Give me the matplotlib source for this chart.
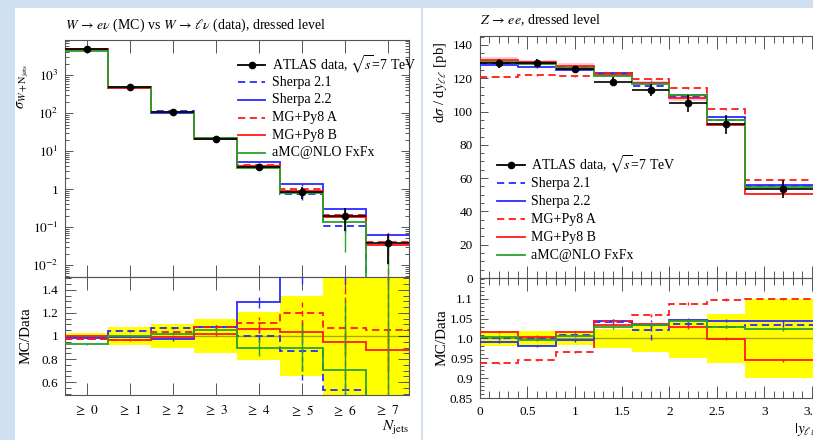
import numpy as np
import matplotlib
matplotlib.use('Agg')
import matplotlib.pyplot as plt
from matplotlib.ticker import FixedLocator, FixedFormatter, MultipleLocator, LogLocator, NullFormatter, NullLocator
from matplotlib.lines import Line2D
from matplotlib.patches import Rectangle

plt.rcParams['font.family'] = ['Liberation Serif', 'DejaVu Serif']
plt.rcParams['mathtext.fontset'] = 'stix'

W, H, DPI = 813, 440, 100

# ---------------- Left panel: W + jets ----------------
njets_labels = [r'$\geq\ 0$', r'$\geq\ 1$', r'$\geq\ 2$', r'$\geq\ 3$',
                r'$\geq\ 4$', r'$\geq\ 5$', r'$\geq\ 6$', r'$\geq\ 7$']
w_data = [4730, 475, 105, 20.5, 3.9, 0.85, 0.195, 0.039]
w_data_relerr = [0.022, 0.08, 0.105, 0.145, 0.205, 0.35, 0.6, 0.72]
w_ratio_s21 = [0.975, 1.043, 1.067, 1.075, 1.00, 0.87, 0.535, 0.001]
w_ratio_s22 = [0.985, 0.99, 0.97, 1.075, 1.29, 1.55, 1.55, 1.55]
w_ratio_mga = [0.975, 0.968, 1.035, 1.08, 1.11, 1.195, 1.065, 1.05]
w_ratio_mgb = [1.00, 0.962, 0.995, 1.013, 1.06, 1.035, 0.945, 0.88]
w_ratio_amc = [0.93, 1.00, 1.015, 1.05, 0.90, 0.90, 0.71, 0.001]
w_err_s21 = [0.004, 0.005, 0.01, 0.02, 0.05, 0.25, 0.15, 0.0]
w_err_s22 = [0.003, 0.005, 0.01, 0.02, 0.05, 0.10, 0.10, 0.10]
w_err_mga = [0.003, 0.004, 0.006, 0.012, 0.05, 0.10, 0.40, 0.90]
w_err_mgb = [0.003, 0.004, 0.006, 0.012, 0.03, 0.05, 0.10, 0.20]
w_err_amc = [0.004, 0.006, 0.01, 0.02, 0.07, 0.20, 0.60, 1.50]

# ---------------- Right panel: Z rapidity ----------------
y_edges = [0.0, 0.4, 0.8, 1.2, 1.6, 2.0, 2.4, 2.8, 3.6]
z_data = [129.0, 129.0, 125.4, 118.0, 113.0, 105.0, 92.3, 53.3]
z_data_relerr = [0.02, 0.018, 0.017, 0.024, 0.034, 0.05, 0.062, 0.10]
z_ratio_s21 = [1.000, 1.002, 1.010, 1.041, 1.021, 1.037, 1.030, 1.034]
z_ratio_s22 = [0.991, 0.981, 0.995, 1.044, 1.035, 1.047, 1.045, 1.043]
z_ratio_mga = [0.938, 0.945, 0.966, 1.045, 1.059, 1.088, 1.098, 1.100]
z_ratio_mgb = [1.016, 1.005, 1.016, 1.035, 1.036, 1.028, 0.999, 0.945]
z_ratio_amc = [1.005, 0.997, 1.007, 1.028, 1.033, 1.045, 1.030, 1.024]
z_err_s21 = [0.003, 0.003, 0.004, 0.005, 0.025, 0.006, 0.004, 0.004]
z_err_s22 = [0.003, 0.003, 0.003, 0.004, 0.005, 0.005, 0.004, 0.004]
z_err_mga = [0.002, 0.002, 0.003, 0.003, 0.004, 0.004, 0.004, 0.003]
z_err_mgb = [0.003, 0.003, 0.003, 0.004, 0.004, 0.004, 0.004, 0.003]
z_err_amc = [0.003, 0.003, 0.004, 0.005, 0.005, 0.005, 0.004, 0.004]

legend_labels = [r'ATLAS data, $\sqrt{s}$=7 TeV', 'Sherpa 2.1', 'Sherpa 2.2',
                 'MG+Py8 A', 'MG+Py8 B', 'aMC@NLO FxFx']

BLUE, RED, GREEN = '#2b2bff', '#ff1a1a', '#2ca02c'
DASH = (0, (4, 2.5))
styles = [(BLUE, DASH), (BLUE, '-'), (RED, DASH), (RED, '-'), (GREEN, '-')]
TICKC = '#555555'
FS_TICK = 9.5
FS_TEXT = 9.5

fig = plt.figure(figsize=(W / DPI, H / DPI), dpi=DPI)
fig.patch.set_facecolor('#cfe0f1')
fig.add_artist(Rectangle((15 / W, 0), 1 - 15 / W, 1 - 8 / H, transform=fig.transFigure,
                         facecolor='white', edgecolor='none', zorder=-10))
fig.add_artist(Line2D([421.5 / W, 421.5 / W], [0, 1 - 8 / H], transform=fig.transFigure,
                      color='#cfe0f1', lw=1.5, zorder=-9))


def px_axes(x0, y0, x1, y1):
    return fig.add_axes([x0 / W, 1 - y1 / H, (x1 - x0) / W, (y1 - y0) / H])


def style_axes(ax):
    for s in ax.spines.values():
        s.set_color(TICKC)
        s.set_linewidth(0.8)
    ax.tick_params(which='both', direction='in', top=True, right=True, colors=TICKC,
                   labelcolor='black', labelsize=FS_TICK, width=0.7)
    ax.set_facecolor('none')


def draw_main(ax, edges, data, relerr, ratios, errs, band_w):
    edges = np.asarray(edges, float)
    data = np.asarray(data, float)
    centers = 0.5 * (edges[1:] + edges[:-1])
    half = 0.5 * (edges[1:] - edges[:-1])
    for r, e, (c, ls) in zip(ratios, errs, styles):
        mc = np.asarray(r) * data
        if c == RED and ls == '-':
            ax.stairs(mc * (1 + band_w), edges, baseline=mc * (1 - band_w), fill=True,
                      color=RED, alpha=0.22, lw=0, zorder=2)
        ax.stairs(mc, edges, baseline=None, color=c, ls=ls, lw=1.3, zorder=3)
        eb = ax.errorbar(centers, mc, yerr=np.asarray(e) * data, fmt='none', ecolor=c,
                         elinewidth=1.0, zorder=3)
        eb[2][0].set_linestyle(ls)
    ax.errorbar(centers, data, xerr=half, yerr=np.asarray(relerr) * data, fmt='o',
                color='black', ms=4.5, elinewidth=1.2, capsize=0, zorder=5)


def draw_ratio(ax, edges, relerr, ratios, errs):
    edges = np.asarray(edges, float)
    centers = 0.5 * (edges[1:] + edges[:-1])
    re = np.asarray(relerr)
    ax.stairs(1 + re, edges, baseline=1 - re, fill=True, color='#ffff00', lw=0, zorder=1)
    ax.axhline(1.0, color='black', alpha=0.35, lw=1.0, zorder=2)
    for r, e, (c, ls) in zip(ratios, errs, styles):
        ax.stairs(r, edges, baseline=None, color=c, ls=ls, lw=1.3, zorder=3)
        eb = ax.errorbar(centers, r, yerr=e, fmt='none', ecolor=c, elinewidth=1.0, zorder=3)
        eb[2][0].set_linestyle(ls)


def draw_legend(x0, x1, xt, ys):
    xm = 0.5 * (x0 + x1)
    for i, (lab, y) in enumerate(zip(legend_labels, ys)):
        yy = 1 - y / H
        if i == 0:
            fig.add_artist(Line2D([x0 / W, x1 / W], [yy, yy], transform=fig.transFigure,
                                  color='black', lw=1.3))
            fig.add_artist(Line2D([xm / W], [yy], transform=fig.transFigure, color='black',
                                  marker='o', ms=4.5))
        else:
            c, ls = styles[i - 1]
            fig.add_artist(Line2D([x0 / W, x1 / W], [yy, yy], transform=fig.transFigure,
                                  color=c, ls=ls, lw=1.3))
        fig.text(xt / W, yy, lab, ha='left', va='center', fontsize=FS_TEXT + 0.5)


w_ratios = [w_ratio_s21, w_ratio_s22, w_ratio_mga, w_ratio_mgb, w_ratio_amc]
w_errs = [w_err_s21, w_err_s22, w_err_mga, w_err_mgb, w_err_amc]
z_ratios = [z_ratio_s21, z_ratio_s22, z_ratio_mga, z_ratio_mgb, z_ratio_amc]
z_errs = [z_err_s21, z_err_s22, z_err_mga, z_err_mgb, z_err_amc]

# ---------- Left main ----------
nb = len(w_data)
w_edges = np.arange(nb + 1) - 0.5
w_centers = np.arange(nb)
axL = px_axes(65, 40, 409, 277)
style_axes(axL)
axL.set_yscale('log')
draw_main(axL, w_edges, w_data, w_data_relerr, w_ratios, w_errs, 0.06)
axL.set_xlim(-0.5, nb - 0.5)
axL.set_ylim(0.00483, 8400)
axL.xaxis.set_major_locator(FixedLocator(w_centers))
axL.xaxis.set_minor_locator(NullLocator())
axL.xaxis.set_major_formatter(NullFormatter())
axL.yaxis.set_major_locator(FixedLocator([1e-2, 1e-1, 1, 10, 100, 1000]))
axL.yaxis.set_major_formatter(FixedFormatter([r'$10^{-2}$', r'$10^{-1}$', '1',
                                              r'$10^{1}$', r'$10^{2}$', r'$10^{3}$']))
axL.yaxis.set_minor_locator(LogLocator(base=10, subs=np.arange(2, 10), numticks=20))
axL.yaxis.set_minor_formatter(NullFormatter())
axL.tick_params(axis='x', which='major', length=9)
axL.tick_params(axis='y', which='major', length=6, pad=5)
axL.tick_params(axis='y', which='minor', length=3)

# ---------- Left ratio ----------
axLr = px_axes(65, 277, 409, 395)
style_axes(axLr)
draw_ratio(axLr, w_edges, w_data_relerr, w_ratios, w_errs)
axLr.set_xlim(-0.5, nb - 0.5)
axLr.set_ylim(0.49, 1.51)
axLr.xaxis.set_major_locator(FixedLocator(w_centers))
axLr.xaxis.set_major_formatter(FixedFormatter(njets_labels))
axLr.xaxis.set_minor_locator(NullLocator())
axLr.yaxis.set_major_locator(FixedLocator([0.6, 0.8, 1.0, 1.2, 1.4]))
axLr.yaxis.set_major_formatter(FixedFormatter(['0.6', '0.8', '1', '1.2', '1.4']))
axLr.yaxis.set_minor_locator(MultipleLocator(0.05))
axLr.tick_params(axis='x', which='major', length=9, pad=6)
axLr.tick_params(axis='y', which='major', length=8, pad=5)
axLr.tick_params(axis='y', which='minor', length=4)

# ---------- Right main ----------
axR = px_axes(480, 36, 821, 278)
style_axes(axR)
draw_main(axR, y_edges, z_data, z_data_relerr, z_ratios, z_errs, 0.012)
axR.set_xlim(0, 3.6)
axR.set_ylim(0, 145.4)
axR.xaxis.set_major_locator(MultipleLocator(0.5))
axR.xaxis.set_minor_locator(MultipleLocator(0.1))
axR.xaxis.set_major_formatter(NullFormatter())
axR.yaxis.set_major_locator(MultipleLocator(20))
axR.yaxis.set_minor_locator(MultipleLocator(5))
axR.tick_params(axis='x', which='major', length=9)
axR.tick_params(axis='x', which='minor', length=5)
axR.tick_params(axis='y', which='major', length=6, pad=5)
axR.tick_params(axis='y', which='minor', length=3)

# ---------- Right ratio ----------
axRr = px_axes(480, 278, 821, 398)
style_axes(axRr)
draw_ratio(axRr, y_edges, z_data_relerr, z_ratios, z_errs)
axRr.set_xlim(0, 3.6)
axRr.set_ylim(0.85, 1.1525)
axRr.xaxis.set_major_locator(FixedLocator([0, 0.5, 1, 1.5, 2, 2.5, 3, 3.5]))
axRr.xaxis.set_major_formatter(FixedFormatter(['0', '0.5', '1', '1.5', '2', '2.5', '3', '3.5']))
axRr.xaxis.set_minor_locator(MultipleLocator(0.1))
axRr.yaxis.set_major_locator(FixedLocator([0.85, 0.9, 0.95, 1.0, 1.05, 1.1]))
axRr.yaxis.set_major_formatter(FixedFormatter(['0.85', '0.9', '0.95', '1.0', '1.05', '1.1']))
axRr.yaxis.set_minor_locator(MultipleLocator(0.01))
axRr.tick_params(axis='x', which='major', length=9, pad=6)
axRr.tick_params(axis='x', which='minor', length=5)
axRr.tick_params(axis='y', which='major', length=6, pad=5)
axRr.tick_params(axis='y', which='minor', length=3)

# ---------- Titles and labels ----------
fig.text(65 / W, 1 - 29 / H,
         r'$W\,\rightarrow\,e\nu$ (MC) vs $W\,\rightarrow\,\ell\nu$ (data), dressed level',
         ha='left', va='baseline', fontsize=FS_TEXT + 0.5)
fig.text(480 / W, 1 - 24 / H, r'$Z\,\rightarrow\,ee$, dressed level',
         ha='left', va='baseline', fontsize=FS_TEXT + 0.5)
fig.text(23 / W, 1 - 64 / H, r'$\sigma_{W+\mathrm{N_{jets}}}$', rotation=90,
         ha='center', va='top', fontsize=FS_TEXT + 1)
fig.text(26 / W, 1 - 336 / H, 'MC/Data', rotation=90, ha='center', va='center', fontsize=FS_TEXT + 1.5)
fig.text(440 / W, 1 - 42 / H, r'd$\sigma$ / d$y_{\ell\ell}$ [pb]', rotation=90,
         ha='center', va='top', fontsize=FS_TEXT + 1)
fig.text(442 / W, 1 - 338 / H, 'MC/Data', rotation=90, ha='center', va='center', fontsize=FS_TEXT + 1.5)
axLr.text(1.0, -0.20, r'$N_{\mathrm{jets}}$', transform=axLr.transAxes, ha='right', va='top',
          fontsize=FS_TEXT + 1.5)
axRr.text(1.0, -0.19, r'$|y_{\ell\ell}|$', transform=axRr.transAxes, ha='right', va='top',
          fontsize=FS_TEXT + 1.5)

draw_legend(238, 265, 272, [65, 82.5, 100, 117.5, 135, 152.5])
draw_legend(497, 525, 531, [165, 183, 201, 219, 237, 255])

fig.savefig('out.png', dpi=DPI, facecolor=fig.get_facecolor())
